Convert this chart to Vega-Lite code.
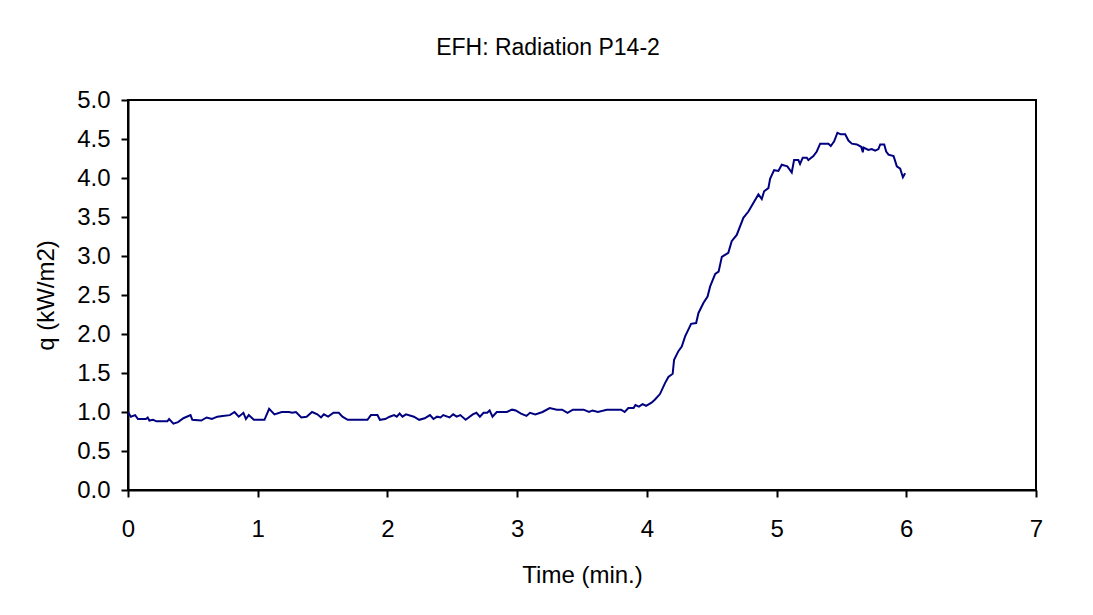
{
  "$schema": "https://vega.github.io/schema/vega-lite/v6.json",
  "autosize": {"type": "none"},
  "padding": {"left": 128, "top": 100, "right": 57, "bottom": 125},
  "width": 908,
  "height": 390,
  "background": "white",
  "title": {
    "text": "EFH: Radiation P14-2",
    "font": "Liberation Sans",
    "fontSize": 23,
    "fontWeight": "normal",
    "color": "black",
    "anchor": "middle",
    "frame": "group",
    "dx": -34,
    "baseline": "alphabetic",
    "offset": 10
  },
  "config": {
    "view": {"stroke": "black", "strokeWidth": 2},
    "axis": {
      "labelFont": "Liberation Sans",
      "titleFont": "Liberation Sans",
      "labelFontSize": 24,
      "titleFontSize": 24,
      "titleFontWeight": "normal",
      "labelColor": "black",
      "titleColor": "black",
      "domainColor": "black",
      "domainWidth": 2,
      "tickColor": "black",
      "tickWidth": 2,
      "tickSize": 7,
      "grid": false
    }
  },
  "data": {
    "values": [
      {"t": 0, "q": 1.00}, {"t": 0.022, "q": 0.94}, {"t": 0.055, "q": 0.96}, {"t": 0.077, "q": 0.91},
      {"t": 0.138, "q": 0.91}, {"t": 0.152, "q": 0.93}, {"t": 0.165, "q": 0.89}, {"t": 0.193, "q": 0.90},
      {"t": 0.220, "q": 0.88}, {"t": 0.303, "q": 0.88}, {"t": 0.317, "q": 0.91}, {"t": 0.350, "q": 0.85},
      {"t": 0.386, "q": 0.87}, {"t": 0.427, "q": 0.92}, {"t": 0.482, "q": 0.96}, {"t": 0.496, "q": 0.90},
      {"t": 0.565, "q": 0.89}, {"t": 0.606, "q": 0.93}, {"t": 0.647, "q": 0.91}, {"t": 0.689, "q": 0.94},
      {"t": 0.730, "q": 0.95}, {"t": 0.785, "q": 0.96}, {"t": 0.821, "q": 1.00}, {"t": 0.854, "q": 0.94},
      {"t": 0.890, "q": 0.99}, {"t": 0.909, "q": 0.91}, {"t": 0.931, "q": 0.96}, {"t": 0.970, "q": 0.90},
      {"t": 1.052, "q": 0.90}, {"t": 1.088, "q": 1.04}, {"t": 1.129, "q": 0.97}, {"t": 1.185, "q": 1.00},
      {"t": 1.240, "q": 1.00}, {"t": 1.267, "q": 0.99}, {"t": 1.295, "q": 1.00}, {"t": 1.336, "q": 0.93},
      {"t": 1.377, "q": 0.94}, {"t": 1.419, "q": 1.00}, {"t": 1.460, "q": 0.97}, {"t": 1.488, "q": 0.93},
      {"t": 1.510, "q": 0.97}, {"t": 1.543, "q": 0.94}, {"t": 1.584, "q": 0.99}, {"t": 1.625, "q": 0.99},
      {"t": 1.653, "q": 0.94}, {"t": 1.694, "q": 0.90}, {"t": 1.846, "q": 0.90}, {"t": 1.873, "q": 0.96},
      {"t": 1.923, "q": 0.96}, {"t": 1.942, "q": 0.90}, {"t": 1.983, "q": 0.91}, {"t": 2.017, "q": 0.94},
      {"t": 2.052, "q": 0.96}, {"t": 2.072, "q": 0.94}, {"t": 2.094, "q": 0.98}, {"t": 2.116, "q": 0.94},
      {"t": 2.143, "q": 0.97}, {"t": 2.204, "q": 0.94}, {"t": 2.245, "q": 0.90}, {"t": 2.287, "q": 0.92},
      {"t": 2.328, "q": 0.96}, {"t": 2.355, "q": 0.91}, {"t": 2.383, "q": 0.94}, {"t": 2.410, "q": 0.93},
      {"t": 2.430, "q": 0.96}, {"t": 2.479, "q": 0.93}, {"t": 2.507, "q": 0.97}, {"t": 2.534, "q": 0.94},
      {"t": 2.562, "q": 0.96}, {"t": 2.603, "q": 0.90}, {"t": 2.658, "q": 0.97}, {"t": 2.686, "q": 0.99},
      {"t": 2.713, "q": 0.94}, {"t": 2.741, "q": 0.99}, {"t": 2.769, "q": 0.99}, {"t": 2.788, "q": 1.02},
      {"t": 2.810, "q": 0.94}, {"t": 2.843, "q": 1.00}, {"t": 2.920, "q": 1.00}, {"t": 2.961, "q": 1.03},
      {"t": 2.989, "q": 1.02}, {"t": 3.030, "q": 0.98}, {"t": 3.072, "q": 0.95}, {"t": 3.099, "q": 0.99},
      {"t": 3.140, "q": 0.97}, {"t": 3.196, "q": 1.00}, {"t": 3.251, "q": 1.05}, {"t": 3.306, "q": 1.03},
      {"t": 3.347, "q": 1.03}, {"t": 3.388, "q": 0.99}, {"t": 3.430, "q": 1.03}, {"t": 3.512, "q": 1.03},
      {"t": 3.554, "q": 1.00}, {"t": 3.581, "q": 1.02}, {"t": 3.623, "q": 1.00}, {"t": 3.691, "q": 1.03},
      {"t": 3.802, "q": 1.03}, {"t": 3.829, "q": 1.00}, {"t": 3.857, "q": 1.05}, {"t": 3.898, "q": 1.05},
      {"t": 3.912, "q": 1.09}, {"t": 3.939, "q": 1.07}, {"t": 3.967, "q": 1.10}, {"t": 3.994, "q": 1.08},
      {"t": 4.036, "q": 1.12}, {"t": 4.063, "q": 1.16}, {"t": 4.101, "q": 1.23}, {"t": 4.140, "q": 1.37},
      {"t": 4.166, "q": 1.45}, {"t": 4.199, "q": 1.49}, {"t": 4.210, "q": 1.67}, {"t": 4.243, "q": 1.78},
      {"t": 4.269, "q": 1.84}, {"t": 4.295, "q": 1.97}, {"t": 4.341, "q": 2.13}, {"t": 4.380, "q": 2.14},
      {"t": 4.398, "q": 2.27}, {"t": 4.437, "q": 2.40}, {"t": 4.468, "q": 2.48}, {"t": 4.488, "q": 2.61},
      {"t": 4.527, "q": 2.77}, {"t": 4.553, "q": 2.80}, {"t": 4.578, "q": 2.99}, {"t": 4.628, "q": 3.04},
      {"t": 4.654, "q": 3.19}, {"t": 4.693, "q": 3.27}, {"t": 4.744, "q": 3.49}, {"t": 4.783, "q": 3.57},
      {"t": 4.821, "q": 3.68}, {"t": 4.860, "q": 3.79}, {"t": 4.886, "q": 3.73}, {"t": 4.904, "q": 3.83},
      {"t": 4.937, "q": 3.87}, {"t": 4.950, "q": 3.99}, {"t": 4.981, "q": 4.10}, {"t": 5.014, "q": 4.09},
      {"t": 5.040, "q": 4.17}, {"t": 5.083, "q": 4.15}, {"t": 5.117, "q": 4.07}, {"t": 5.135, "q": 4.23},
      {"t": 5.168, "q": 4.23}, {"t": 5.181, "q": 4.18}, {"t": 5.202, "q": 4.26}, {"t": 5.233, "q": 4.26},
      {"t": 5.245, "q": 4.23}, {"t": 5.284, "q": 4.28}, {"t": 5.310, "q": 4.34}, {"t": 5.336, "q": 4.44},
      {"t": 5.400, "q": 4.44}, {"t": 5.418, "q": 4.41}, {"t": 5.444, "q": 4.47}, {"t": 5.469, "q": 4.58},
      {"t": 5.495, "q": 4.56}, {"t": 5.529, "q": 4.56}, {"t": 5.554, "q": 4.48}, {"t": 5.580, "q": 4.44},
      {"t": 5.619, "q": 4.43}, {"t": 5.652, "q": 4.40}, {"t": 5.665, "q": 4.33}, {"t": 5.670, "q": 4.39},
      {"t": 5.708, "q": 4.36}, {"t": 5.734, "q": 4.37}, {"t": 5.760, "q": 4.35}, {"t": 5.785, "q": 4.37},
      {"t": 5.799, "q": 4.43}, {"t": 5.830, "q": 4.43}, {"t": 5.845, "q": 4.34}, {"t": 5.863, "q": 4.30},
      {"t": 5.902, "q": 4.28}, {"t": 5.914, "q": 4.22}, {"t": 5.927, "q": 4.15}, {"t": 5.953, "q": 4.12},
      {"t": 5.974, "q": 4.01}, {"t": 5.991, "q": 4.06}
    ]
  },
  "mark": {"type": "line", "color": "#000080", "strokeWidth": 2, "clip": true},
  "encoding": {
    "x": {
      "field": "t",
      "type": "quantitative",
      "scale": {"domain": [0, 7], "nice": false, "zero": false},
      "axis": {
        "title": "Time (min.)",
        "values": [0, 1, 2, 3, 4, 5, 6, 7],
        "format": "d",
        "labelPadding": 20,
        "labelFlush": false,
        "titleY": 92,
        "titleBaseline": "alphabetic"
      }
    },
    "y": {
      "field": "q",
      "type": "quantitative",
      "scale": {"domain": [0, 5], "nice": false, "zero": true},
      "axis": {
        "title": "q (kW/m2)",
        "values": [0, 0.5, 1, 1.5, 2, 2.5, 3, 3.5, 4, 4.5, 5],
        "format": ".1f",
        "labelPadding": 11,
        "labelFlush": false,
        "titleX": -75,
        "titleBaseline": "alphabetic"
      }
    }
  }
}
